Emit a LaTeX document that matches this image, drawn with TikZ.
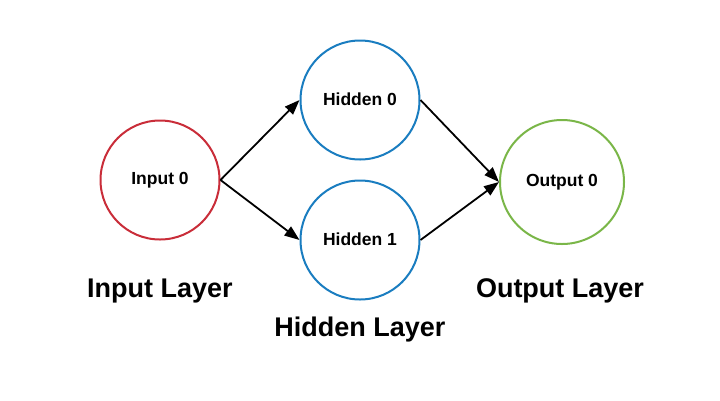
\documentclass[tikz,border=0pt]{standalone}
\usepackage{fontspec}
\setmainfont{Liberation Sans}
\usetikzlibrary{arrows.meta}
\definecolor{inred}{HTML}{C92D39}
\definecolor{hidblue}{HTML}{1A7DC0}
\definecolor{outgreen}{HTML}{7AB648}
\newcommand{\nlbl}[1]{\raisebox{2pt}{#1}}
\begin{document}
\begin{tikzpicture}[x=1pt,y=-1pt,
  neuron/.style={circle,draw,line width=2pt,minimum size=119pt,inner sep=0pt,
    font=\fontsize{17.5}{21}\selectfont\bfseries},
  layerlabel/.style={font=\fontsize{27}{32}\selectfont\bfseries,anchor=base,inner sep=0pt},
  conn/.style={line width=1.8pt,-{Triangle[length=15pt,width=11pt]}}]
\useasboundingbox (0,0) rectangle (720,400);
\node[neuron,draw=inred] (in0) at (160,180) {\nlbl{Input 0}};
\node[neuron,draw=hidblue] (h0) at (360,100) {\nlbl{Hidden 0}};
\node[neuron,draw=hidblue] (h1) at (360,240) {\nlbl{Hidden 1}};
\node[neuron,draw=outgreen,minimum size=124pt] (out0) at (562,182) {\nlbl{Output 0}};
\draw[conn] (in0.east) -- (h0.west);
\draw[conn] (in0.east) -- (h1.west);
\draw[conn] (h0.east) -- (out0.west);
\draw[conn] (h1.east) -- (out0.west);
\node[layerlabel] (linput) at (160,297) {Input Layer};
\node[layerlabel] (lhidden) at (360,336) {Hidden Layer};
\node[layerlabel] (loutput) at (560,297) {Output Layer};
\end{tikzpicture}
\end{document}
